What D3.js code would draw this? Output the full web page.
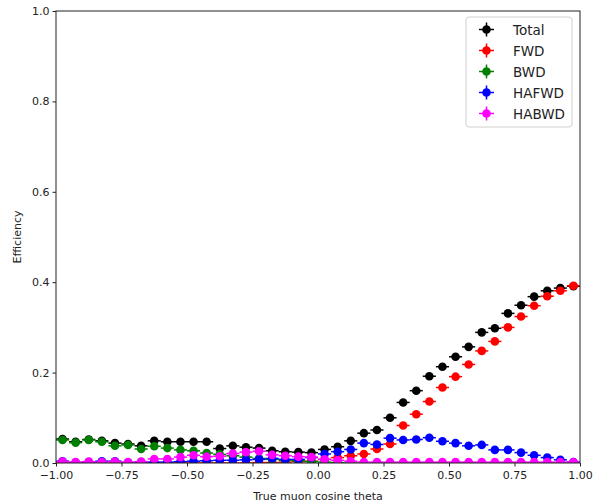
<!DOCTYPE html>
<html><head><meta charset="utf-8">
<script src="https://cdn.jsdelivr.net/npm/d3@7"></script>
<style>body{margin:0;background:#fff;} text{font-family:"DejaVu Sans",sans-serif;}</style>
</head><body><svg id="c" width="593" height="503"></svg>
<script>
const binCenters = [-0.975,-0.925,-0.875,-0.825,-0.775,-0.725,-0.675,-0.625,-0.575,-0.525,-0.475,-0.425,-0.375,-0.325,-0.275,-0.225,-0.175,-0.125,-0.075,-0.025,0.025,0.075,0.125,0.175,0.225,0.275,0.325,0.375,0.425,0.475,0.525,0.575,0.625,0.675,0.725,0.775,0.825,0.875,0.925,0.975];
const totalEff = [0.053,0.047,0.052,0.049,0.044,0.042,0.038,0.049,0.047,0.047,0.047,0.047,0.032,0.038,0.035,0.033,0.027,0.025,0.024,0.023,0.030,0.036,0.049,0.066,0.073,0.100,0.134,0.160,0.192,0.213,0.235,0.257,0.289,0.298,0.331,0.349,0.368,0.381,0.387,0.391];
const fwdEff = [0,0,0,0,0,0,0,0,0,0,0,0,0,0,0,0.001,0.001,0.002,0.003,0.004,0.008,0.012,0.016,0.020,0.031,0.042,0.083,0.108,0.136,0.167,0.191,0.218,0.248,0.269,0.300,0.324,0.348,0.369,0.381,0.392];
const bwdEff = [0.051,0.045,0.051,0.047,0.038,0.040,0.031,0.037,0.033,0.029,0.027,0.022,0.019,0.016,0.013,0.010,0.008,0.006,0.005,0.003,0.002,0.001,0,0,0,0,0,0,0,0,0,0,0,0,0,0,0,0,0,0];
const hafwdEff = [0.004,0.001,0.002,0.004,0.004,0.001,0.002,0.002,0.002,0.003,0.004,0.005,0.006,0.006,0.007,0.008,0.010,0.008,0.008,0.012,0.020,0.025,0.030,0.044,0.041,0.055,0.051,0.052,0.056,0.048,0.044,0.038,0.040,0.029,0.029,0.023,0.017,0.012,0.007,0.002];
const habwdEff = [0.003,0.002,0.003,0.002,0.003,0.002,0.003,0.009,0.009,0.013,0.017,0.014,0.015,0.021,0.024,0.026,0.018,0.016,0.014,0.013,0.008,0.006,0.004,0.002,0.002,0.002,0.002,0.002,0.002,0.002,0.002,0.002,0.002,0.002,0.002,0.002,0.002,0.002,0.002,0.002];
const seriesNames = ["Total","FWD","BWD","HAFWD","HABWD"];
const seriesColors = ["#000000","#ff0000","#008000","#0000ff","#ff00ff"];
const seriesYErr = [0.005,0.005,0.004,0.004,0.003];
const binHalfWidth = 0.025;
const xTicks = [-1,-0.75,-0.5,-0.25,0,0.25,0.5,0.75,1];
const yTicks = [0,0.2,0.4,0.6,0.8,1.0];
const xLabel = "True muon cosine theta";
const yLabel = "Efficiency";

const allSeries = [totalEff,fwdEff,bwdEff,hafwdEff,habwdEff];
const svg = d3.select("#c");
const L=56,R=580,T=11,B=463;
const x = d3.scaleLinear().domain([-1,1]).range([L,R]);
const y = d3.scaleLinear().domain([0,1]).range([B,T]);
const minus = s => s.replace("-","\u2212");

const plot = svg.append("g");
svg.append("clipPath").attr("id","cp").append("rect").attr("x",L).attr("y",T-6).attr("width",R-L+6).attr("height",B-T+6);
plot.attr("clip-path","url(#cp)");

allSeries.forEach((vals,si)=>{
  const g = plot.append("g");
  const col = seriesColors[si];
  const e = seriesYErr[si];
  vals.forEach((v,i)=>{
    const c = binCenters[i];
    g.append("line").attr("x1",x(c-binHalfWidth)).attr("x2",x(c+binHalfWidth)).attr("y1",y(v)).attr("y2",y(v)).attr("stroke",col).attr("stroke-width",1.5);
    g.append("line").attr("x1",x(c)).attr("x2",x(c)).attr("y1",y(Math.max(0,v-e))).attr("y2",y(v+e)).attr("stroke",col).attr("stroke-width",1.5);
    g.append("circle").attr("cx",x(c)).attr("cy",y(v)).attr("r",4.3).attr("fill",col);
  });
});

// axes
const xa = svg.append("g").attr("transform",`translate(0,${B})`).call(d3.axisBottom(x).tickValues(xTicks).tickFormat(d=>minus(d3.format(".2f")(d))).tickSizeOuter(0).tickSize(3.5).tickPadding(5));
const ya = svg.append("g").attr("transform",`translate(${L},0)`).call(d3.axisLeft(y).tickValues(yTicks).tickFormat(d3.format(".1f")).tickSizeOuter(0).tickSize(3.5).tickPadding(3));
[xa,ya].forEach(a=>{a.select(".domain").remove(); a.selectAll("text").attr("font-size",11).attr("fill","#222").style("font-family","DejaVu Sans"); a.selectAll("line").attr("stroke","#222");});
svg.append("rect").attr("x",L).attr("y",T).attr("width",R-L).attr("height",B-T).attr("fill","none").attr("stroke","#222").attr("stroke-width",1);

svg.append("text").attr("x",(L+R)/2).attr("y",500).attr("text-anchor","middle").attr("font-size",11).attr("fill","#222").text(xLabel);
svg.append("text").attr("transform",`translate(21,${(T+B)/2}) rotate(-90)`).attr("text-anchor","middle").attr("font-size",11).attr("fill","#222").text(yLabel);

// legend
const lg = svg.append("g");
lg.append("rect").attr("x",466).attr("y",17).attr("width",106).attr("height",110).attr("rx",3).attr("fill","#fff").attr("fill-opacity",0.8).attr("stroke","#d0d0d0");
seriesNames.forEach((n,i)=>{
  const yy = 29.5 + i*21;
  const col = seriesColors[i];
  lg.append("line").attr("x1",479).attr("x2",494).attr("y1",yy).attr("y2",yy).attr("stroke",col).attr("stroke-width",1.5);
  lg.append("line").attr("x1",486.5).attr("x2",486.5).attr("y1",yy-7).attr("y2",yy+7).attr("stroke",col).attr("stroke-width",1.5);
  lg.append("circle").attr("cx",486.5).attr("cy",yy).attr("r",4.3).attr("fill",col);
  lg.append("text").attr("x",513).attr("y",yy+5).attr("font-size",13.5).attr("fill","#222").text(n);
});
</script></body></html>
